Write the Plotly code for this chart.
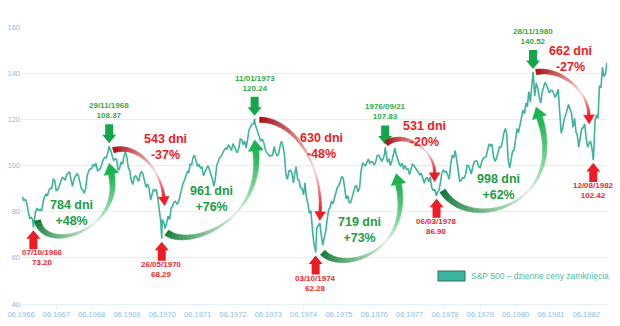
import datetime as dt
import math
import plotly.graph_objects as go

# S&P 500 closes, two readings per month (15th and month-end)
sp_1966 = [86.5, 84.7, 85.5, 83.6, 80.0, 77.1, 77.5, 76.6, 75.5, 80.2, 81.5, 80.5, 81.0, 80.3]  # Jun-Dec
sp_1967 = [84.0, 86.6, 87.6, 86.8, 89.0, 90.2, 90.0, 94.0, 93.5, 89.1, 89.5, 90.6,
           93.0, 94.8, 94.5, 93.6, 96.0, 96.7, 97.3, 93.9, 91.0, 94.0, 95.0, 96.5]
sp_1968 = [95.5, 92.2, 90.0, 89.4, 88.0, 90.2, 95.5, 97.6, 98.5, 98.7, 100.5, 99.6,
           101.0, 97.7, 98.0, 98.9, 101.0, 102.7, 103.5, 103.4, 105.5, 108.0, 106.5, 103.9]
sp_1969 = [102.0, 103.0, 102.5, 98.1, 98.5, 101.5, 100.5, 103.7, 106.0, 103.5, 99.0, 97.7,
           93.5, 91.8, 95.0, 95.5, 94.5, 93.1, 96.5, 97.2, 96.0, 93.8, 90.5, 92.1]
sp_1970 = [90.0, 85.0, 87.0, 89.5, 89.0, 89.6, 86.0, 81.5, 76.0, 76.6, 75.5, 72.7,
           75.0, 78.1, 76.5, 81.5, 82.5, 84.2, 84.5, 83.3, 84.0, 87.2, 90.0, 92.2]
sp_1971 = [93.5, 95.9, 97.5, 96.8, 100.5, 100.3, 103.5, 104.5, 101.5, 99.6, 100.5, 98.7,
           99.5, 95.6, 97.0, 99.0, 100.0, 98.3, 96.5, 94.2, 91.0, 94.0, 100.0, 102.1]
sp_1972 = [103.5, 103.9, 105.5, 106.6, 107.5, 107.2, 109.0, 107.7, 106.5, 109.5, 108.0, 107.1,
           105.5, 107.4, 111.5, 111.1, 109.0, 110.6, 107.5, 111.6, 115.5, 116.7, 118.0, 118.1]
sp_1973 = [118.0, 116.0, 114.0, 111.7, 110.5, 111.5, 110.0, 107.0, 105.5, 105.0, 104.0, 104.3,
           104.5, 108.2, 105.5, 104.3, 105.0, 108.4, 110.5, 108.3, 104.5, 96.0, 94.0, 97.6]
sp_1974 = [98.0, 96.6, 92.5, 96.2, 99.5, 94.0, 93.5, 90.3, 90.0, 87.3, 92.5, 86.0,
           83.5, 79.3, 80.5, 72.2, 66.0, 63.5, 73.0, 73.9, 75.0, 70.0, 65.5, 68.6]
sp_1975 = [71.5, 77.0, 81.0, 81.6, 84.5, 83.4, 85.5, 87.3, 90.5, 91.2, 93.0, 95.2,
           94.5, 88.8, 85.5, 86.9, 84.0, 83.9, 86.5, 89.0, 91.0, 91.2, 88.5, 90.2]
sp_1976 = [97.5, 100.9, 100.5, 99.7, 101.0, 102.8, 101.0, 101.6, 101.5, 100.2, 101.5, 104.3,
           104.5, 103.4, 102.0, 102.9, 105.0, 105.2, 101.5, 102.9, 100.0, 102.1, 104.5, 107.5]
sp_1977 = [104.5, 102.0, 100.5, 99.8, 101.0, 98.4, 100.0, 98.4, 98.5, 96.1, 99.0, 100.5,
           100.0, 98.9, 98.0, 96.8, 96.0, 96.5, 94.0, 92.3, 94.5, 94.8, 93.0, 95.1]
sp_1978 = [90.5, 89.3, 89.5, 87.0, 88.5, 89.2, 92.5, 96.8, 98.0, 97.2, 97.5, 95.5,
           94.0, 100.7, 104.5, 103.3, 106.5, 102.5, 97.5, 93.2, 93.5, 94.7, 94.5, 96.1]
sp_1979 = [100.0, 99.9, 98.0, 96.3, 99.5, 101.6, 102.0, 101.8, 99.5, 99.1, 101.5, 102.9,
           103.5, 103.8, 106.5, 109.3, 108.5, 109.3, 104.0, 101.8, 103.0, 106.2, 108.0, 107.9]
sp_1980 = [110.0, 114.2, 116.0, 113.7, 102.5, 99.0, 103.5, 106.3, 106.5, 111.2, 116.0, 114.2,
           117.5, 121.7, 124.0, 122.4, 127.0, 125.5, 132.0, 127.5, 137.0, 140.0, 130.0, 135.8]
sp_1981 = [133.5, 129.6, 127.0, 131.3, 134.0, 136.0, 135.0, 132.8, 131.5, 132.6, 132.5, 131.2,
           129.5, 130.9, 133.0, 122.8, 114.0, 116.2, 120.0, 121.9, 124.0, 126.4, 124.5, 122.6]
sp_1982 = [116.5, 120.4, 114.5, 113.1, 108.0, 112.0, 116.0, 116.4, 118.0, 111.9, 108.0, 109.6,
           110.5, 107.1, 104.0, 119.5, 122.0, 120.4, 134.5, 133.7, 142.5, 138.5, 139.5, 144.5]

# Turning points of the market
ext_dates = ["1966-10-07", "1968-11-29", "1970-05-26", "1973-01-11", "1974-10-03",
             "1976-09-21", "1978-03-06", "1980-11-28", "1982-08-12"]
ext_values = [73.20, 108.37, 68.29, 120.24, 62.28, 107.83, 86.90, 140.52, 102.42]
ext_labels = ["07/10/1966", "29/11/1968", "26/05/1970", "11/01/1973", "03/10/1974",
              "1976/09/21", "06/03/1978", "28/11/1980", "12/08/1982"]
ext_is_low = [True, False, True, False, True, False, True, False, True]

# Swings between consecutive turning points
swing_days = ["784", "543", "961", "630", "719", "531", "998", "662"]
swing_pct = ["+48%", "-37%", "+76%", "-48%", "+73%", "-20%", "+62%", "-27%"]

tick_years = list(range(1966, 1983))
legend_name = "S&P 500 – dzienne ceny zamknięcia"

FONT = "Arial, 'Liberation Sans', sans-serif"
LINE_COL = "#3fb39c"
GREEN, GREEN_TXT, GREEN_LBL = "#13a64a", "#1b9e45", "#2aae4f"
RED, RED_TXT = "#ee1c24", "#f0282d"
AXIS_TXT = "#8dbde4"
GRID = "#e6eef7"


def dec_year(d):
    start = dt.date(d.year, 1, 1)
    n = (dt.date(d.year + 1, 1, 1) - start).days
    return d.year + (d - start).days / n


def month_end(y, m):
    nxt = dt.date(y + (m == 12), m % 12 + 1, 1)
    return nxt - dt.timedelta(days=1)


# assemble the series
points = []
yearly = [(1966, 6, sp_1966)] + [(y, 1, v) for y, v in zip(
    range(1967, 1983),
    [sp_1967, sp_1968, sp_1969, sp_1970, sp_1971, sp_1972, sp_1973, sp_1974,
     sp_1975, sp_1976, sp_1977, sp_1978, sp_1979, sp_1980, sp_1981, sp_1982])]
for year, first_month, vals in yearly:
    for i, v in enumerate(vals):
        m = first_month + i // 2
        d = dt.date(year, m, 15) if i % 2 == 0 else month_end(year, m)
        points.append((d, v))
ext_d = [dt.date.fromisoformat(s) for s in ext_dates]
points += list(zip(ext_d, ext_values))
points.sort(key=lambda p: p[0])
xs = [dec_year(d) for d, _ in points]
ys = [v for _, v in points]

# plot geometry
W_FIG, H_FIG = 620, 326
ML, MR, MT, MB = 21, 13, 27, 22
PW, PH = W_FIG - ML - MR, H_FIG - MT - MB
x_lo, x_hi = dec_year(dt.date(1966, 6, 1)), 1983.0
y_lo, y_hi = 40, 160


def to_px(x, y):
    return (ML + (x - x_lo) / (x_hi - x_lo) * PW, MT + (y_hi - y) / (y_hi - y_lo) * PH)


def to_data(px, py):
    return (x_lo + (px - ML) / PW * (x_hi - x_lo), y_hi - (py - MT) / PH * (y_hi - y_lo))


def poly_path(pts):
    dpts = [to_data(*p) for p in pts]
    return "M " + " L ".join(f"{x:.5f},{y:.4f}" for x, y in dpts) + " Z"


def poly_shape(pts, color, lw=0.0):
    return dict(type="path", path=poly_path(pts), xref="x", yref="y",
                fillcolor=color, line=dict(color=color, width=lw), layer="above")


def hex_rgb(h):
    return tuple(int(h[i:i + 2], 16) for i in (1, 3, 5))


def mix(c0, c1, f):
    a, b = hex_rgb(c0), hex_rgb(c1)
    return "#%02x%02x%02x" % tuple(round(a[i] + (b[i] - a[i]) * f) for i in range(3))


def profile(t, tm, v0, vm, v1):
    return v0 + (vm - v0) * t / tm if t <= tm else vm + (v1 - vm) * (t - tm) / (1 - tm)


def color_at(t, tm, c0, cm, c1):
    return mix(c0, cm, t / tm) if t <= tm else mix(cm, c1, (t - tm) / (1 - tm))


shapes = []
ext_px = [to_px(dec_year(d), v) for d, v in zip(ext_d, ext_values)]

# block arrows pointing at each turning point
GAP, A_LEN, SH_W, HD_W, HD_L = 3, 19, 4, 7, 8.5
for (px, py), low in zip(ext_px, ext_is_low):
    s = 1 if low else -1  # arrow body lies below lows, above highs
    tip = py + s * GAP
    base = tip + s * HD_L
    end = tip + s * A_LEN
    pts = [(px, tip), (px + HD_W, base), (px + SH_W, base), (px + SH_W, end),
           (px - SH_W, end), (px - SH_W, base), (px - HD_W, base)]
    shapes.append(poly_shape(pts, RED if low else GREEN))

# curved swing arrows: start offset, tip offset, control offsets, label offset (screen px)
swing_geom = [
    dict(s=(4, -7), e=(0, 17), c1=(7.5, 35), c2=(11.5, 56), txt=(38.5, -14)),
    dict(s=(4, 4), e=(3, -33), c1=(25, -7), c2=(-3, -27), txt=(56, 1)),
    dict(s=(5, -6), e=(0, 21), c1=(23, 17), c2=(7.5, 70), txt=(50, -39.5)),
    dict(s=(5, 1), e=(4, -32), c1=(35, 0), c2=(2.5, -46), txt=(67, 27.5)),
    dict(s=(7, 0), e=(11, 26), c1=(22, 22), c2=(14, 66), txt=(44, -23)),
    dict(s=(1, -4), e=(-2, -14), c1=(18, -13), c2=(0, -24), txt=(39, -13.5)),
    dict(s=(6, -5), e=(3, 35), c1=(27, 44), c2=(29, 87), txt=(62, -8.5)),
    dict(s=(3, 0), e=(-4, -36), c1=(26, -4), c2=(-1, -24), txt=(37, -13)),
]
green_style = dict(c=("#0f7a35", "#d6f1de", "#1db34f"), w=(6.5, 1.0, 6.0), tm=0.62,
                   head_w=7.5, head_l=11)
red_style = dict(c=("#a70d12", "#fbd0d0", "#ec1c24"), w=(5.5, 0.8, 2.6), tm=0.68,
                 head_w=5.5, head_l=9)
# horizontal nudge of the date labels (first one kept clear of the value axis)
label_dx = [9, 0, 0, 0, 0, 0, 0, 0, 0]


def bez(p, t):
    u = 1 - t
    return (u ** 3 * p[0][0] + 3 * u * u * t * p[1][0] + 3 * u * t * t * p[2][0] + t ** 3 * p[3][0],
            u ** 3 * p[0][1] + 3 * u * u * t * p[1][1] + 3 * u * t * t * p[2][1] + t ** 3 * p[3][1])


def bez_d(p, t):
    u = 1 - t
    return (3 * u * u * (p[1][0] - p[0][0]) + 6 * u * t * (p[2][0] - p[1][0]) + 3 * t * t * (p[3][0] - p[2][0]),
            3 * u * u * (p[1][1] - p[0][1]) + 6 * u * t * (p[2][1] - p[1][1]) + 3 * t * t * (p[3][1] - p[2][1]))


annotations = []
N_SEG = 28
for i, g in enumerate(swing_geom):
    p0, p1 = ext_px[i], ext_px[i + 1]
    rising = ext_is_low[i]
    st = green_style if rising else red_style
    S = (p0[0] + g["s"][0], p0[1] + g["s"][1])
    E = (p1[0] + g["e"][0], p1[1] + g["e"][1])
    c2n = math.hypot(*g["c2"])
    d = (-g["c2"][0] / c2n, -g["c2"][1] / c2n)
    Bp = (E[0] - d[0] * st["head_l"], E[1] - d[1] * st["head_l"])
    C1 = (S[0] + g["c1"][0], S[1] + g["c1"][1])
    C2 = (Bp[0] + g["c2"][0], Bp[1] + g["c2"][1])
    ctrl = [S, C1, C2, Bp]
    samples = []
    for k in range(N_SEG + 1):
        t = k / N_SEG
        x, y = bez(ctrl, t)
        dx, dy = bez_d(ctrl, t)
        n = math.hypot(dx, dy)
        nx, ny = -dy / n, dx / n
        w = profile(t, st["tm"], *st["w"]) / 2
        samples.append(((x + nx * w, y + ny * w), (x - nx * w, y - ny * w), t))
    for k in range(N_SEG):
        a, b = samples[k], samples[k + 1]
        col = color_at((a[2] + b[2]) / 2, st["tm"], *st["c"])
        shapes.append(poly_shape([a[0], b[0], b[1], a[1]], col, 0.6))
    nx, ny = -d[1], d[0]
    hw = st["head_w"]
    shapes.append(poly_shape([(Bp[0] + nx * hw, Bp[1] + ny * hw), E,
                              (Bp[0] - nx * hw, Bp[1] - ny * hw)], st["c"][2], 0.4))
    annotations.append(dict(
        x=dec_year(ext_d[i]), y=ext_values[i], xref="x", yref="y",
        xshift=g["txt"][0], yshift=-g["txt"][1], showarrow=False,
        xanchor="center", yanchor="middle", align="center",
        text=f"<b>{swing_days[i]} dni<br>{swing_pct[i]}</b>",
        font=dict(family=FONT, size=12.5, color=GREEN_TXT if rising else RED)))

# date / value labels at each turning point
for d, v, lab, low, ldx in zip(ext_d, ext_values, ext_labels, ext_is_low, label_dx):
    annotations.append(dict(
        x=dec_year(d), y=v, xref="x", yref="y", showarrow=False,
        xanchor="center", yanchor="top" if low else "bottom", xshift=ldx,
        yshift=-(GAP + A_LEN) + 3 if low else (GAP + A_LEN) + 2, align="center",
        text=f"<b>{lab}<br>{v:.2f}</b>",
        font=dict(family=FONT, size=8, color=RED_TXT if low else GREEN_LBL)))

# legend swatch and text
shapes.append(dict(type="rect", xref="paper", yref="paper",
                   x0=(438 - ML) / PW, x1=(465 - ML) / PW,
                   y0=(H_FIG - MB - 281) / PH, y1=(H_FIG - MB - 271) / PH,
                   fillcolor="#3cb49e", line=dict(color="#2f6f63", width=1)))
annotations.append(dict(x=(469 - ML) / PW, y=(H_FIG - MB - 276) / PH, xref="paper", yref="paper",
                        xanchor="left", yanchor="middle", showarrow=False, text=legend_name,
                        font=dict(family=FONT, size=8.5, color="#4dbba5")))

fig = go.Figure(go.Scatter(x=xs, y=ys, mode="lines", name=legend_name,
                           line=dict(color=LINE_COL, width=1.6), showlegend=False))

fig.update_layout(
    width=W_FIG, height=H_FIG, autosize=False,
    margin=dict(l=ML, r=MR, t=MT, b=MB, pad=0),
    plot_bgcolor="white", paper_bgcolor="white",
    shapes=shapes, annotations=annotations, showlegend=False,
    xaxis=dict(range=[x_lo, x_hi], tickvals=[dec_year(dt.date(y, 6, 1)) for y in tick_years],
               ticktext=[f"06.{y}" for y in tick_years], showgrid=False, zeroline=False,
               showline=True, linecolor=GRID, linewidth=1, ticks="outside", ticklen=3,
               tickcolor=GRID, tickfont=dict(family=FONT, size=7.5, color=AXIS_TXT),
               automargin=False, fixedrange=True),
    yaxis=dict(range=[y_lo, y_hi], tick0=40, dtick=20, showgrid=True, gridcolor=GRID,
               gridwidth=1, zeroline=False, showline=False, ticks="",
               tickfont=dict(family=FONT, size=7.5, color=AXIS_TXT),
               automargin=False, fixedrange=True),
)

fig.write_html("out.html")
